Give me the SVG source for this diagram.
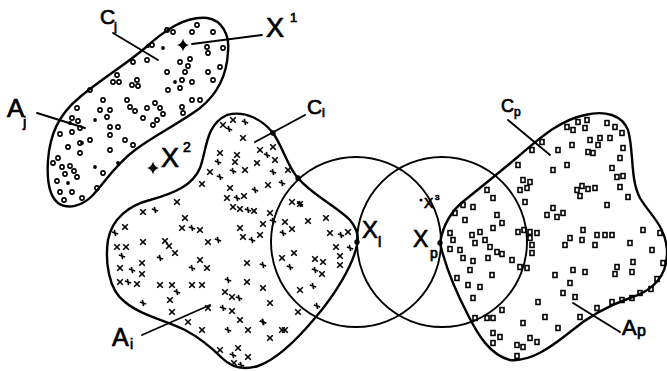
<svg xmlns="http://www.w3.org/2000/svg" width="667" height="371" viewBox="0 0 667 371">
<style>
.ol{fill:none;stroke:#000;stroke-width:2.4;stroke-linejoin:round}
.cr{fill:none;stroke:#000;stroke-width:1.9}
.ld{fill:none;stroke:#000;stroke-width:1.9;stroke-linecap:round}
.mk{fill:none;stroke:#000;stroke-width:1.6}
.tx{font-family:"Liberation Sans","DejaVu Sans",sans-serif;fill:#000;stroke:#000;stroke-width:0.7}
</style>
<defs>
<circle id="o" r="2.1" class="mk"/>
<circle id="f" r="1.9" fill="#000"/>
<path id="x" d="M-2.8,-2.8 L2.8,2.8 M2.8,-2.8 L-2.8,2.8" class="mk"/>
<path id="t" d="M-3.2,-1 L3.2,1 M-0.6,-3.2 L0.6,3.2" class="mk"/>
<rect id="s" x="-2" y="-2.4" width="4" height="4.8" class="mk"/>
<circle id="pt" r="2.7" fill="#000"/>
<path id="star" d="M0,-6.5 Q1.2,-1.2 6,0 Q1.2,1.2 0,6.5 Q-1.2,1.2 -6,0 Q-1.2,-1.2 0,-6.5Z" fill="#000"/>
</defs>
<rect width="667" height="371" fill="#fff"/>

<g id="circle-l"><circle class="cr" cx="356" cy="242" r="85"/></g>
<g id="circle-p"><circle class="cr" cx="442" cy="242" r="85"/></g>

<g id="blob-j">
<path class="ol" d="M207,18 C222,20 230,35 228,52 C227,72 220,92 200,108 C180,123 155,135 135,150 C115,165 105,182 92,196 C82,206 68,210 58,203 C48,195 47,175 48,160 C50,135 58,115 80,97 C100,80 125,65 145,48 C165,30 185,16 207,18 Z"/>
<use href="#o" x="197" y="25"/><use href="#o" x="192" y="32"/><use href="#o" x="173" y="32"/><use href="#o" x="167" y="30"/><use href="#o" x="213" y="32"/><use href="#o" x="207" y="47"/><use href="#o" x="208" y="53"/><use href="#o" x="223" y="48"/><use href="#o" x="152" y="45"/><use href="#o" x="147" y="60"/><use href="#o" x="133" y="62"/><use href="#o" x="180" y="62"/><use href="#o" x="188" y="66"/><use href="#o" x="190" y="59"/><use href="#o" x="167" y="72"/><use href="#o" x="185" y="72"/><use href="#o" x="208" y="72"/><use href="#o" x="220" y="67"/><use href="#o" x="213" y="80"/><use href="#o" x="182" y="80"/><use href="#o" x="192" y="82"/><use href="#o" x="180" y="88"/><use href="#o" x="168" y="90"/><use href="#o" x="137" y="80"/><use href="#o" x="138" y="86"/><use href="#o" x="117" y="75"/><use href="#o" x="113" y="82"/><use href="#o" x="119" y="82"/><use href="#o" x="132" y="85"/><use href="#o" x="90" y="90"/><use href="#o" x="103" y="100"/><use href="#o" x="127" y="100"/><use href="#o" x="130" y="107"/><use href="#o" x="135" y="111"/><use href="#o" x="147" y="108"/><use href="#o" x="155" y="103"/><use href="#o" x="160" y="108"/><use href="#o" x="163" y="114"/><use href="#o" x="182" y="107"/><use href="#o" x="192" y="100"/><use href="#o" x="200" y="100"/><use href="#o" x="183" y="113"/><use href="#o" x="110" y="110"/><use href="#o" x="107" y="117"/><use href="#o" x="100" y="110"/><use href="#o" x="77" y="108"/><use href="#o" x="72" y="118"/><use href="#o" x="78" y="121"/><use href="#o" x="80" y="128"/><use href="#o" x="72" y="132"/><use href="#o" x="60" y="134"/><use href="#o" x="110" y="127"/><use href="#o" x="118" y="127"/><use href="#o" x="143" y="118"/><use href="#o" x="153" y="125"/><use href="#o" x="157" y="120"/><use href="#o" x="90" y="140"/><use href="#o" x="110" y="135"/><use href="#o" x="125" y="140"/><use href="#o" x="133" y="145"/><use href="#o" x="80" y="143"/><use href="#o" x="68" y="147"/><use href="#o" x="80" y="153"/><use href="#o" x="58" y="158"/><use href="#o" x="53" y="163"/><use href="#o" x="62" y="167"/><use href="#o" x="70" y="166"/><use href="#o" x="74" y="171"/><use href="#o" x="65" y="174"/><use href="#o" x="110" y="150"/><use href="#o" x="103" y="173"/><use href="#o" x="77" y="177"/><use href="#o" x="57" y="181"/><use href="#o" x="72" y="192"/><use href="#o" x="97" y="188"/><use href="#o" x="60" y="192"/><use href="#o" x="64" y="200"/><use href="#o" x="82" y="198"/>
<use href="#f" x="163" y="48"/><use href="#f" x="175" y="82"/><use href="#f" x="95" y="120"/><use href="#f" x="82" y="143"/><use href="#f" x="118" y="163"/><use href="#f" x="95" y="167"/><use href="#f" x="68" y="183"/><use href="#f" x="148" y="46"/><use href="#f" x="70" y="123"/>
</g>

<g id="blob-i">
<path class="ol" d="M227,115 C245,110 263,120 273,133 C283,147 288,168 298,178 C312,195 335,205 350,220 C358,230 359,238 357,245 C353,265 335,295 315,318 C295,342 275,360 258,366 C245,370 232,368 222,358 C212,348 200,338 185,330 C165,320 140,315 125,302 C108,290 105,260 108,240 C112,218 130,205 150,200 C175,193 193,185 200,168 C207,150 205,125 227,115 Z"/>
<use href="#x" x="223" y="125"/><use href="#t" x="229" y="129"/><use href="#x" x="233" y="120"/><use href="#t" x="245" y="122"/><use href="#x" x="243" y="138"/><use href="#x" x="260" y="150"/><use href="#t" x="267" y="155"/><use href="#x" x="220" y="153"/><use href="#t" x="218" y="162"/><use href="#x" x="237" y="155"/><use href="#x" x="235" y="162"/><use href="#t" x="233" y="171"/><use href="#x" x="245" y="170"/><use href="#x" x="257" y="163"/><use href="#t" x="273" y="172"/><use href="#x" x="288" y="170"/><use href="#x" x="210" y="172"/><use href="#t" x="220" y="177"/><use href="#x" x="202" y="184"/><use href="#x" x="230" y="188"/><use href="#t" x="255" y="190"/><use href="#x" x="268" y="185"/><use href="#x" x="227" y="198"/><use href="#t" x="237" y="198"/><use href="#x" x="244" y="196"/><use href="#x" x="233" y="207"/><use href="#x" x="240" y="209"/><use href="#t" x="248" y="210"/><use href="#x" x="254" y="211"/><use href="#x" x="270" y="213"/><use href="#t" x="273" y="221"/><use href="#x" x="263" y="224"/><use href="#x" x="292" y="202"/><use href="#t" x="300" y="204"/><use href="#x" x="285" y="222"/><use href="#x" x="292" y="229"/><use href="#t" x="283" y="233"/><use href="#x" x="308" y="221"/><use href="#x" x="326" y="218"/><use href="#x" x="330" y="233"/><use href="#t" x="341" y="235"/><use href="#x" x="348" y="232"/><use href="#x" x="336" y="247"/><use href="#x" x="340" y="256"/><use href="#t" x="350" y="248"/><use href="#x" x="177" y="202"/><use href="#x" x="143" y="212"/><use href="#t" x="155" y="210"/><use href="#x" x="185" y="218"/><use href="#x" x="182" y="228"/><use href="#t" x="192" y="228"/><use href="#x" x="200" y="230"/><use href="#x" x="208" y="242"/><use href="#t" x="218" y="240"/><use href="#x" x="240" y="228"/><use href="#x" x="243" y="237"/><use href="#t" x="252" y="240"/><use href="#x" x="260" y="235"/><use href="#x" x="125" y="227"/><use href="#t" x="115" y="233"/><use href="#x" x="117" y="247"/><use href="#x" x="126" y="247"/><use href="#t" x="122" y="256"/><use href="#x" x="143" y="242"/><use href="#x" x="165" y="241"/><use href="#x" x="169" y="246"/><use href="#t" x="160" y="258"/><use href="#x" x="175" y="253"/><use href="#x" x="200" y="260"/><use href="#t" x="192" y="268"/><use href="#x" x="207" y="268"/><use href="#x" x="120" y="268"/><use href="#t" x="132" y="270"/><use href="#x" x="142" y="263"/><use href="#x" x="142" y="274"/><use href="#x" x="120" y="282"/><use href="#t" x="128" y="282"/><use href="#x" x="137" y="284"/><use href="#x" x="247" y="263"/><use href="#t" x="263" y="265"/><use href="#x" x="282" y="258"/><use href="#x" x="294" y="253"/><use href="#t" x="290" y="267"/><use href="#x" x="315" y="259"/><use href="#x" x="323" y="262"/><use href="#t" x="315" y="270"/><use href="#x" x="322" y="274"/><use href="#x" x="340" y="265"/><use href="#x" x="247" y="282"/><use href="#t" x="228" y="280"/><use href="#x" x="160" y="285"/><use href="#x" x="172" y="285"/><use href="#t" x="177" y="292"/><use href="#x" x="192" y="285"/><use href="#x" x="202" y="285"/><use href="#x" x="170" y="300"/><use href="#t" x="143" y="303"/><use href="#x" x="225" y="292"/><use href="#x" x="232" y="297"/><use href="#t" x="239" y="298"/><use href="#x" x="263" y="288"/><use href="#x" x="300" y="290"/><use href="#t" x="313" y="286"/><use href="#x" x="172" y="312"/><use href="#x" x="208" y="308"/><use href="#t" x="223" y="308"/><use href="#x" x="232" y="311"/><use href="#x" x="270" y="303"/><use href="#x" x="298" y="312"/><use href="#t" x="317" y="306"/><use href="#x" x="188" y="322"/><use href="#x" x="202" y="330"/><use href="#t" x="228" y="330"/><use href="#x" x="240" y="320"/><use href="#x" x="248" y="330"/><use href="#t" x="263" y="322"/><use href="#x" x="282" y="330"/><use href="#x" x="270" y="338"/><use href="#x" x="220" y="350"/><use href="#t" x="233" y="355"/><use href="#x" x="238" y="348"/><use href="#x" x="248" y="357"/><use href="#x" x="234" y="363"/><use href="#t" x="241" y="365"/><use href="#x" x="273" y="147"/><use href="#x" x="275" y="160"/><use href="#t" x="282" y="183"/><use href="#x" x="300" y="204"/><use href="#x" x="285" y="330"/><use href="#t" x="263" y="322"/>
</g>

<g id="blob-p">
<path class="ol" d="M440,243 C443,225 452,210 465,200 C480,188 500,172 520,155 C540,138 560,120 585,115 C605,110 622,115 628,130 C634,150 630,180 640,198 C650,215 665,225 667,250 C668,275 655,290 630,298 C610,305 590,315 570,332 C550,348 530,362 510,360 C490,355 478,335 468,315 C455,290 445,265 440,243 Z"/>
<use href="#s" x="567" y="127"/><use href="#s" x="573" y="130"/><use href="#s" x="578" y="122"/><use href="#s" x="587" y="120"/><use href="#s" x="585" y="128"/><use href="#s" x="607" y="123"/><use href="#s" x="615" y="127"/><use href="#s" x="622" y="133"/><use href="#s" x="610" y="138"/><use href="#s" x="600" y="138"/><use href="#s" x="590" y="140"/><use href="#s" x="588" y="152"/><use href="#s" x="593" y="153"/><use href="#s" x="598" y="145"/><use href="#s" x="572" y="145"/><use href="#s" x="558" y="150"/><use href="#s" x="542" y="142"/><use href="#s" x="532" y="150"/><use href="#s" x="623" y="148"/><use href="#s" x="620" y="158"/><use href="#s" x="612" y="168"/><use href="#s" x="617" y="177"/><use href="#s" x="623" y="176"/><use href="#s" x="620" y="187"/><use href="#s" x="628" y="197"/><use href="#s" x="518" y="165"/><use href="#s" x="553" y="170"/><use href="#s" x="567" y="165"/><use href="#s" x="523" y="180"/><use href="#s" x="530" y="182"/><use href="#s" x="520" y="190"/><use href="#s" x="527" y="188"/><use href="#s" x="525" y="202"/><use href="#s" x="577" y="190"/><use href="#s" x="582" y="186"/><use href="#s" x="588" y="189"/><use href="#s" x="595" y="188"/><use href="#s" x="580" y="196"/><use href="#s" x="607" y="205"/><use href="#s" x="553" y="208"/><use href="#s" x="547" y="215"/><use href="#s" x="557" y="217"/><use href="#s" x="563" y="213"/><use href="#s" x="487" y="190"/><use href="#s" x="493" y="198"/><use href="#s" x="463" y="205"/><use href="#s" x="473" y="207"/><use href="#s" x="455" y="213"/><use href="#s" x="465" y="220"/><use href="#s" x="497" y="215"/><use href="#s" x="502" y="223"/><use href="#s" x="493" y="228"/><use href="#s" x="518" y="232"/><use href="#s" x="524" y="230"/><use href="#s" x="530" y="232"/><use href="#s" x="537" y="233"/><use href="#s" x="530" y="238"/><use href="#s" x="532" y="245"/><use href="#s" x="532" y="253"/><use href="#s" x="450" y="233"/><use href="#s" x="453" y="240"/><use href="#s" x="450" y="249"/><use href="#s" x="460" y="250"/><use href="#s" x="472" y="235"/><use href="#s" x="480" y="232"/><use href="#s" x="475" y="243"/><use href="#s" x="485" y="240"/><use href="#s" x="490" y="247"/><use href="#s" x="497" y="252"/><use href="#s" x="502" y="254"/><use href="#s" x="463" y="258"/><use href="#s" x="473" y="261"/><use href="#s" x="488" y="258"/><use href="#s" x="512" y="260"/><use href="#s" x="520" y="267"/><use href="#s" x="527" y="268"/><use href="#s" x="470" y="270"/><use href="#s" x="492" y="275"/><use href="#s" x="457" y="278"/><use href="#s" x="468" y="285"/><use href="#s" x="480" y="287"/><use href="#s" x="473" y="298"/><use href="#s" x="583" y="230"/><use href="#s" x="597" y="235"/><use href="#s" x="605" y="235"/><use href="#s" x="612" y="235"/><use href="#s" x="570" y="238"/><use href="#s" x="582" y="240"/><use href="#s" x="595" y="245"/><use href="#s" x="565" y="245"/><use href="#s" x="630" y="243"/><use href="#s" x="643" y="230"/><use href="#s" x="660" y="233"/><use href="#s" x="652" y="250"/><use href="#s" x="663" y="263"/><use href="#s" x="633" y="262"/><use href="#s" x="632" y="272"/><use href="#s" x="617" y="267"/><use href="#s" x="615" y="274"/><use href="#s" x="585" y="272"/><use href="#s" x="573" y="270"/><use href="#s" x="555" y="275"/><use href="#s" x="570" y="283"/><use href="#s" x="563" y="293"/><use href="#s" x="575" y="297"/><use href="#s" x="657" y="279"/><use href="#s" x="651" y="289"/><use href="#s" x="640" y="293"/><use href="#s" x="632" y="298"/><use href="#s" x="622" y="300"/><use href="#s" x="612" y="302"/><use href="#s" x="597" y="308"/><use href="#s" x="538" y="302"/><use href="#s" x="580" y="317"/><use href="#s" x="545" y="317"/><use href="#s" x="523" y="323"/><use href="#s" x="558" y="328"/><use href="#s" x="487" y="318"/><use href="#s" x="493" y="318"/><use href="#s" x="502" y="310"/><use href="#s" x="475" y="318"/><use href="#s" x="493" y="333"/><use href="#s" x="500" y="337"/><use href="#s" x="493" y="343"/><use href="#s" x="517" y="345"/><use href="#s" x="523" y="347"/><use href="#s" x="530" y="338"/><use href="#s" x="537" y="342"/><use href="#s" x="517" y="356"/>
</g>

<g id="points">
<use href="#star" x="183" y="45"/>
<use href="#star" x="153" y="168"/>
<use href="#pt" x="273" y="133"/>
<use href="#pt" x="298" y="178"/>
<use href="#pt" x="357" y="242"/>
<use href="#pt" x="440" y="243"/>
<circle cx="421" cy="200" r="1.6" fill="#000"/>
</g>

<g id="connectors">
<path class="ld" d="M113,33 L158,60"/>
<path class="ld" d="M192,44 L262,35"/>
<path class="ld" d="M37,113 L85,128"/>
<path class="ld" d="M305,115 L255,142"/>
<path class="ld" d="M508,120 L550,155"/>
<path class="ld" d="M620,332 L573,303"/>
<path class="ld" d="M142,335 L210,305"/>
</g>

<g id="labels" class="tx">
<text x="100" y="24" font-size="21">C</text><text x="114" y="31" font-size="13">j</text>
<text x="266" y="37" font-size="27">X</text><text x="290" y="22" font-size="13">1</text>
<text x="7" y="117" font-size="26">A</text><text x="23" y="127" font-size="15">j</text>
<text x="161" y="167" font-size="27">X</text><text x="183" y="152" font-size="14">2</text>
<text x="307" y="114" font-size="21">C</text><text x="322" y="117" font-size="13">i</text>
<text x="362" y="238" font-size="24">X</text><text x="378" y="247" font-size="15">l</text>
<text x="413" y="247" font-size="23">X</text><text x="430" y="258" font-size="14">p</text>
<text x="424" y="208" font-size="14">X</text><text x="435" y="200" font-size="8">3</text>
<text x="501" y="112" font-size="18">C</text><text x="514" y="116" font-size="12">p</text>
<text x="622" y="335" font-size="22">A</text><text x="637" y="336" font-size="16">p</text>
<text x="112" y="346" font-size="25">A</text><text x="130" y="349" font-size="14">i</text>
</g>
</svg>
